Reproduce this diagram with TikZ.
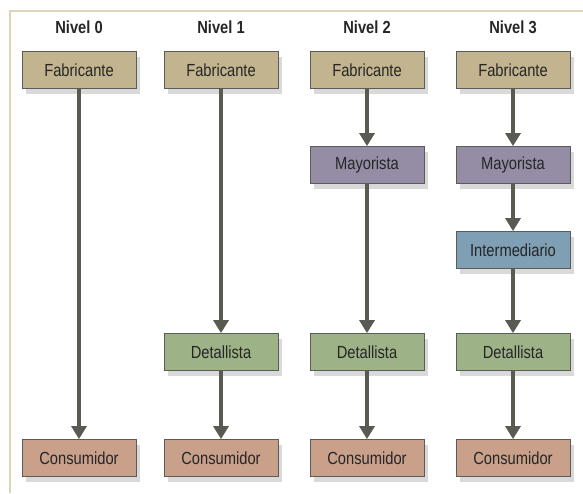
\documentclass[tikz,border=0pt]{standalone}
\usepackage{fontspec}
\setmainfont[FakeStretch=0.84]{Liberation Sans}
\usetikzlibrary{arrows.meta,shadows,positioning}

\definecolor{fabcol}{HTML}{C2B48E}
\definecolor{maycol}{HTML}{958CA6}
\definecolor{intcol}{HTML}{7F9FB5}
\definecolor{detcol}{HTML}{9DB287}
\definecolor{concol}{HTML}{C9A08A}
\definecolor{boxline}{HTML}{5C5C56}
\definecolor{arrowgray}{HTML}{5A5A52}
\definecolor{framecol}{HTML}{DCD5B8}
\definecolor{txtcol}{HTML}{262626}

\begin{document}
\begin{tikzpicture}[
        x=1pt, y=1pt,
        node distance=145pt,
        every node/.style={font=\fontsize{17.5}{20}\selectfont, text=txtcol},
        box/.style={rectangle, draw=boxline, line width=0.8pt, minimum width=114pt, minimum height=37pt, inner sep=0pt,
            drop shadow={shadow xshift=4pt, shadow yshift=-5pt, opacity=0.3}},
        fab/.style={box, fill=fabcol},
        may/.style={box, fill=maycol},
        inter/.style={box, fill=intcol},
        det/.style={box, fill=detcol},
        cons/.style={box, fill=concol},
        title/.style={font=\fontsize{17.5}{20}\selectfont\bfseries},
        edge/.style={-{Triangle[length=13pt, width=15pt]}, line width=3.5pt, draw=arrowgray}
    ]
        \useasboundingbox (0,0) rectangle (583,-493);

        % Frame
        \draw[framecol, line width=1.5pt] (10,-493) -- (10,-11) -- (583,-11);

        % Level titles
        \node[title] (t0) at (79,-27) {Nivel 0};
        \node[title, right of=t0, node distance=142pt] (t1) {Nivel 1};
        \node[title, right of=t1, node distance=146pt] (t2) {Nivel 2};
        \node[title, right of=t2, node distance=146pt] (t3) {Nivel 3};

        % Manufacturer nodes
        \node[fab, below of=t0, node distance=43pt] (f0) {Fabricante};
        \node[fab, below of=t1, node distance=43pt] (f1) {Fabricante};
        \node[fab, below of=t2, node distance=43pt] (f2) {Fabricante};
        \node[fab, below of=t3, node distance=43pt] (f3) {Fabricante};

        % Wholesaler and agent nodes
        \node[may, below of=f2, node distance=95pt] (m2) {Mayorista};
        \node[may, below of=f3, node distance=95pt] (m3) {Mayorista};
        \node[inter, below of=m3, node distance=85pt] (i3) {Intermediario};

        % Retailer nodes
        \node[det, below of=f1, node distance=282pt] (d1) {Detallista};
        \node[det, below of=f2, node distance=282pt] (d2) {Detallista};
        \node[det, below of=f3, node distance=282pt] (d3) {Detallista};

        % Consumer nodes
        \node[cons, below of=f0, node distance=388pt] (c0) {Consumidor};
        \node[cons, below of=f1, node distance=388pt] (c1) {Consumidor};
        \node[cons, below of=f2, node distance=388pt] (c2) {Consumidor};
        \node[cons, below of=f3, node distance=388pt] (c3) {Consumidor};

        % Edges
        \draw[edge] (f0) -- (c0);

        \draw[edge] (f1) -- (d1);
        \draw[edge] (d1) -- (c1);

        \draw[edge] (f2) -- (m2);
        \draw[edge] (m2) -- (d2);
        \draw[edge] (d2) -- (c2);

        \draw[edge] (f3) -- (m3);
        \draw[edge] (m3) -- (i3);
        \draw[edge] (i3) -- (d3);
        \draw[edge] (d3) -- (c3);

    \end{tikzpicture}
\end{document}
